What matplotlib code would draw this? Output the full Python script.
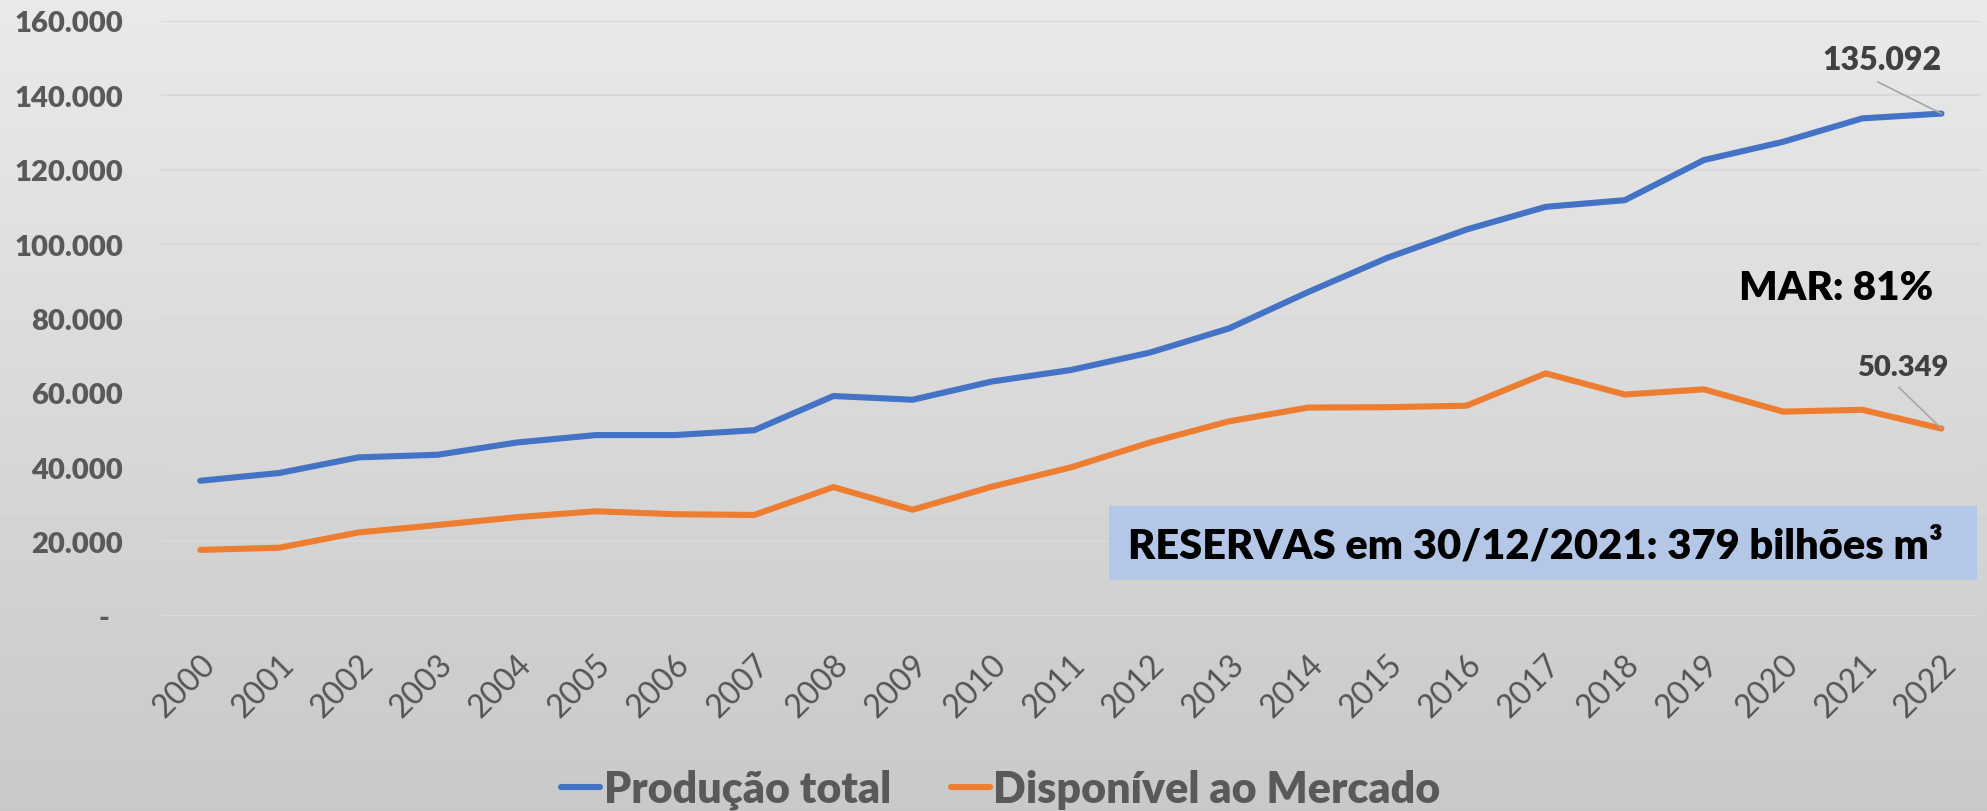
import numpy as np
import matplotlib
matplotlib.use("Agg")
import matplotlib.pyplot as plt
import matplotlib.patches as patches
from matplotlib.transforms import ScaledTranslation

plt.rcParams['font.family'] = ['Lato', 'DejaVu Sans']

years = [str(y) for y in range(2000, 2023)]
producao = [36.3, 38.4, 42.6, 43.3, 46.6, 48.6, 48.6, 49.9, 59.1, 58.1, 63.0, 66.1,
            70.8, 77.3, 87.1, 96.3, 103.9, 110.0, 111.8, 122.6, 127.5, 133.8, 135.092]
disponivel = [17.7, 18.3, 22.4, 24.4, 26.5, 28.1, 27.3, 27.1, 34.6, 28.5, 34.7, 39.9,
              46.6, 52.3, 56.0, 56.1, 56.5, 65.2, 59.5, 60.9, 54.9, 55.4, 50.349]
producao = [v * 1000 for v in producao]
disponivel = [v * 1000 for v in disponivel]
yticks = list(range(0, 160001, 20000))
ylabels = ['-  '] + [f"{v:,}".replace(',', '.') for v in yticks[1:]]
series_names = ['Produção total', 'Disponível ao Mercado']
last_labels = ['135.092', '50.349']

W, H = 1987, 812
BOLD = 'heavy'
fig = plt.figure(figsize=(W / 100, H / 100), dpi=100)

# gradient background
bg = fig.add_axes([0, 0, 1, 1], zorder=-10)
grad = np.linspace(0.915, 0.785, 256).reshape(-1, 1)
bg.imshow(grad, cmap='gray', vmin=0, vmax=1, aspect='auto', extent=[0, 1, 0, 1])
bg.axis('off')

ax = fig.add_axes([160.7 / W, 1 - 616.7 / H, (1981 - 160.7) / W, (616.7 - 22) / H])
ax.set_facecolor('none')
x = np.arange(len(years))
ax.plot(x, producao, color='#4472c4', lw=4.4, solid_capstyle='round', label=series_names[0], zorder=3)
ax.plot(x, disponivel, color='#ed7d31', lw=4.4, solid_capstyle='round', label=series_names[1], zorder=3)

ax.set_xlim(-0.5, len(years) - 0.5)
ax.set_ylim(0, 160000)
ax.set_yticks(yticks)
ax.set_yticklabels(ylabels, fontsize=21, fontweight=BOLD, color='#595959')
ax.yaxis.grid(True, color='#d9d9d9', lw=1.5)
ax.set_axisbelow(True)
for s in ax.spines.values():
    s.set_visible(False)
ax.tick_params(axis='both', length=0)
ax.tick_params(axis='y', pad=27)
ax.set_xticks(x)
ax.set_xticklabels(years, rotation=45, ha='right', va='center', rotation_mode='anchor',
                   fontsize=23, color='#555555')
ax.tick_params(axis='x', pad=31)
for lab in ax.get_xticklabels():
    lab.set_transform(lab.get_transform() + ScaledTranslation(0.1, 0, fig.dpi_scale_trans))

# end labels with leader lines
ends = [(producao[-1], last_labels[0], (-59, 44.7), (-63.7, 31.7), 23),
        (disponivel[-1], last_labels[1], (-38.7, 54), (-42.7, 41.3), 21)]
for val, txt, toff, loff, fs in ends:
    ax.annotate(txt, xy=(x[-1], val), xytext=toff, textcoords='offset pixels',
                ha='center', va='baseline', fontsize=fs, fontweight=BOLD, color='#404040')
    ax.annotate('', xy=(x[-1], val), xytext=loff, textcoords='offset pixels',
                arrowprops=dict(arrowstyle='-', color='#a6a6a6', lw=1.2, shrinkA=0, shrinkB=0))

fig.text(1933 / W, 1 - 300 / H, 'MAR: 81%', ha='right', va='baseline',
         fontsize=29, fontweight=BOLD, color='black')

rect = patches.Rectangle((1108.5 / W, 1 - 580.7 / H), 868.2 / W, 74 / H,
                         transform=fig.transFigure, facecolor='#b4c7e7', edgecolor='none', zorder=5)
fig.add_artist(rect)
fig.text(1128 / W, 1 - 558.3 / H, 'RESERVAS em 30/12/2021: 379 bilhões m³', ha='left', va='baseline',
         fontsize=30, fontweight=BOLD, color='black', zorder=6)

fig.legend(loc='center', bbox_to_anchor=(1001 / W, 1 - 790 / H), ncol=2, frameon=False,
           prop={'size': 31, 'weight': BOLD}, labelcolor='#595959',
           handlelength=0.9, handletextpad=0.08, columnspacing=1.4)

fig.savefig('out.png', dpi=100)
